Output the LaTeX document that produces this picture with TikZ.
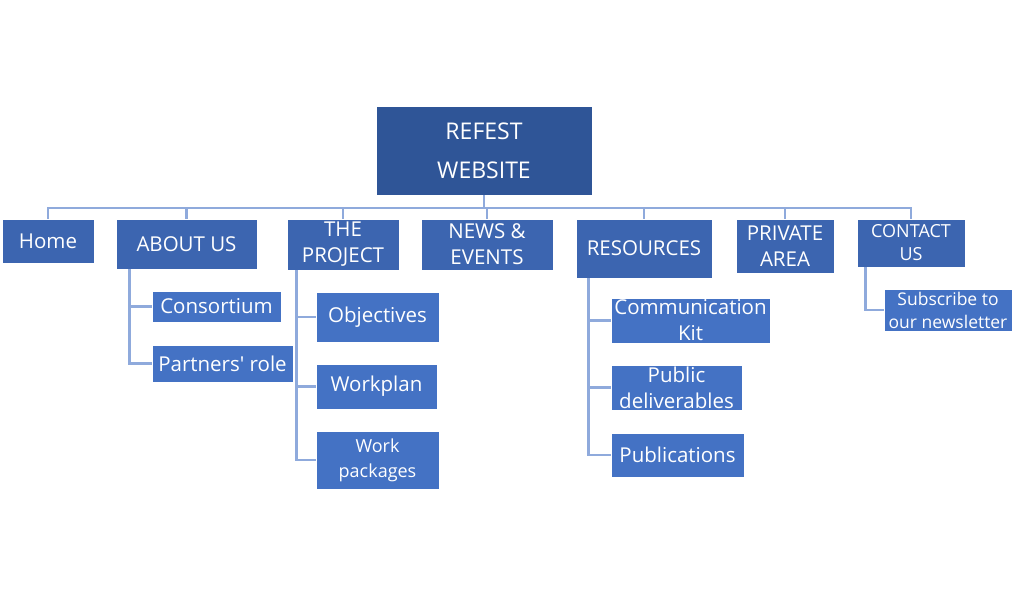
\documentclass[tikz,border=0pt]{standalone}
\usepackage{fontspec}
\setmainfont{Open Sans}[Ligatures=TeXOff]
\begin{document}
\begin{tikzpicture}[x=1pt,y=-1pt,
  bx/.style={draw=white, line width=0.8pt, text=white, inner sep=0pt, align=center},
  rootbox/.style={bx, fill=rootc, font=\fontsize{23}{39}\selectfont},
  topbox/.style={bx, fill=topc, font=\fontsize{20.5}{26}\selectfont},
  subbox/.style={bx, fill=subc, font=\fontsize{20.5}{26}\selectfont},
  conn/.style={draw=linec, line width=2.5pt}]
\definecolor{rootc}{HTML}{2F5597}
\definecolor{topc}{HTML}{3C65B0}
\definecolor{subc}{HTML}{4472C4}
\definecolor{linec}{HTML}{8FAADC}
\useasboundingbox[fill=white] (0,0) rectangle (1024,595);
% root
\node[rootbox, minimum width=216, minimum height=89] (root) at (484,150.5) {REFEST\\WEBSITE};
% level 1
\node[topbox, minimum width=92, minimum height=44] (home) at (48,241) {Home};
\node[topbox, minimum width=141, minimum height=50] (about) at (186.5,244) {ABOUT US};
\node[topbox, minimum width=112, minimum height=51] (project) at (343,244.5) {THE\\PROJECT};
\node[topbox, minimum width=132, minimum height=51] (news) at (487,244.5) {NEWS \&\\EVENTS};
\node[topbox, minimum width=136, minimum height=59] (res) at (644,248.5) {RESOURCES};
\node[topbox, minimum width=98, minimum height=54] (priv) at (785,246) {PRIVATE\\AREA};
\node[topbox, minimum width=108, minimum height=48, font=\fontsize{18}{23}\selectfont] (contact) at (911,243) {CONTACT\\US};
% level 2
\node[subbox, minimum width=129, minimum height=31] (cons) at (216.5,306.5) {Consortium};
\node[subbox, minimum width=141, minimum height=37] (partners) at (222.5,363.5) {Partners' role};
\node[subbox, minimum width=123, minimum height=50] (obj) at (377.5,317) {Objectives};
\node[subbox, minimum width=121, minimum height=45] (work) at (376.5,386.5) {Workplan};
\node[subbox, minimum width=123, minimum height=58, font=\fontsize{18}{25}\selectfont] (wp) at (377.5,460) {Work\\packages};
\node[subbox, minimum width=159, minimum height=45] (comm) at (690.5,320.5) {Communication\\Kit};
\node[subbox, minimum width=131, minimum height=45] (pub) at (676.5,387.5) {Public\\deliverables};
\node[subbox, minimum width=133, minimum height=44] (publ) at (677.5,455) {Publications};
\node[subbox, minimum width=128, minimum height=42, font=\fontsize{17.5}{23}\selectfont] (sub) at (948,310) {Subscribe to\\our newsletter};
% bus
\coordinate (bus) at (484,208);
\draw[conn] (root.south) -- (bus);
\draw[conn] (home.north) -- (home.north |- bus) -- (contact.north |- bus) -- (contact.north);
\foreach \n in {about,project,news,res,priv}{
  \draw[conn] (\n.north) -- (\n.north |- bus);
}
% children
\draw[conn] ([xshift=14pt]about.south west) |- (cons.west);
\draw[conn] ([xshift=14pt]about.south west) |- (partners.west);
\draw[conn] ([xshift=10pt]project.south west) |- (obj.west);
\draw[conn] ([xshift=10pt]project.south west) |- (work.west);
\draw[conn] ([xshift=10pt]project.south west) |- (wp.west);
\draw[conn] ([xshift=13pt]res.south west) |- (comm.west);
\draw[conn] ([xshift=13pt]res.south west) |- (pub.west);
\draw[conn] ([xshift=13pt]res.south west) |- (publ.west);
\draw[conn] ([xshift=9pt]contact.south west) |- (sub.west);
\end{tikzpicture}
\end{document}
